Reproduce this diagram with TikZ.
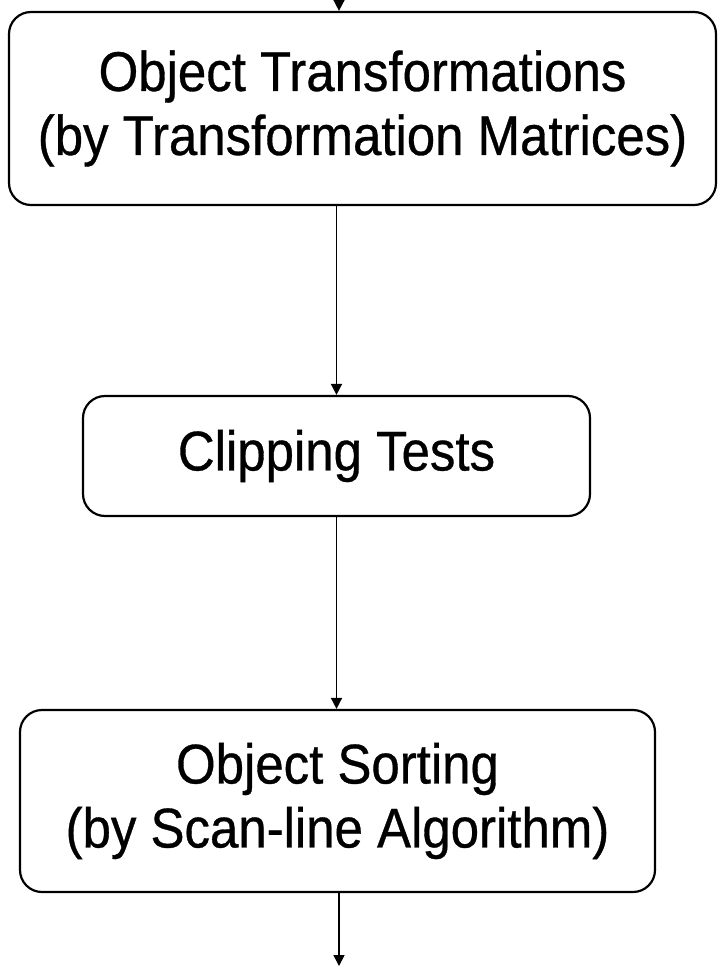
\documentclass[tikz,border=0pt]{standalone}
\usepackage{fontspec}
\setmainfont{Liberation Sans}[FakeStretch=0.91, FakeBold=0.6]
\usetikzlibrary{arrows.meta}
\begin{document}
\begin{tikzpicture}[x=1pt,y=-1pt,
  stage/.style={draw=black, line width=2.2pt, rounded corners=22pt, inner sep=0pt, align=center,
    font=\fontsize{56}{64}\selectfont},
  flow/.style={draw=black, line width=1.6pt, -{Triangle[length=11pt,width=11pt]}}]
  \useasboundingbox (0,0) rectangle (718,974);
  % three stages of the pipeline
  \node[stage, minimum width=707pt, minimum height=193pt] (b1) at (362.5,108.5)
    {Object Transformations\\(by Transformation Matrices)};
  \node[stage, minimum width=507pt, minimum height=120pt] (b2) at (336.5,456)
    {Clipping Tests};
  \node[stage, minimum width=635pt, minimum height=182pt] (b3) at (337.5,801)
    {Object Sorting\\(by Scan-line Algorithm)};
  % free ends of the entry and exit arrows
  \coordinate (entry) at (339,0);
  \coordinate (exit) at (339,966);
  \draw[flow] (entry) -- (entry |- b1.north);
  \draw[flow] (b1.south -| b2.north) -- (b2.north);
  \draw[flow] (b2.south) -- (b2.south |- b3.north);
  \draw[flow] (b3.south -| exit) -- (exit);
\end{tikzpicture}
\end{document}
